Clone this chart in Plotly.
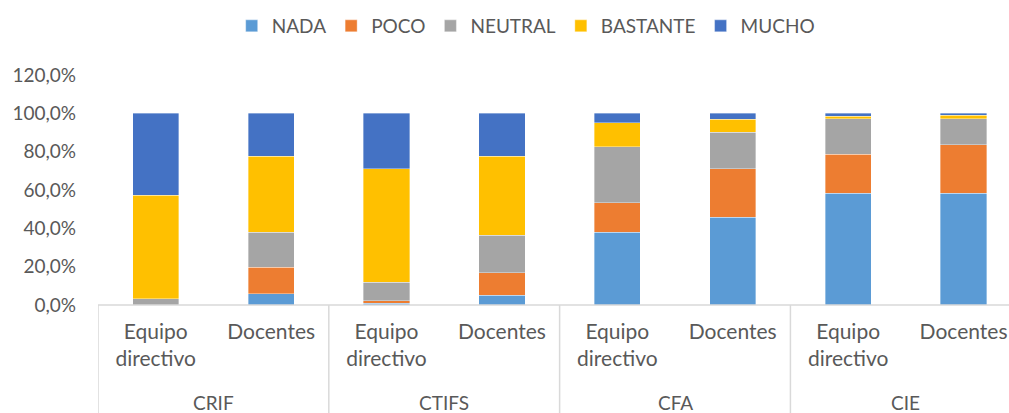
import plotly.graph_objects as go

# Grouped categories: centre type and respondent group
centres = ["CRIF", "CTIFS", "CFA", "CIE"]
groups = ["Equipo<br>directivo", "Docentes"]

# Share of answers per level (fraction of 1), one value per bar in order:
# CRIF-Equipo, CRIF-Docentes, CTIFS-Equipo, CTIFS-Docentes, CFA-Equipo, CFA-Docentes, CIE-Equipo, CIE-Docentes
nada = [0.000, 0.060, 0.010, 0.051, 0.380, 0.459, 0.584, 0.584]
poco = [0.000, 0.137, 0.013, 0.117, 0.154, 0.252, 0.202, 0.252]
neutral = [0.033, 0.183, 0.096, 0.195, 0.292, 0.191, 0.186, 0.136]
bastante = [0.540, 0.397, 0.592, 0.414, 0.125, 0.067, 0.014, 0.017]
mucho = [0.427, 0.223, 0.289, 0.223, 0.049, 0.031, 0.014, 0.011]

series = [
    ("NADA", nada, "#5B9BD5"),
    ("POCO", poco, "#ED7D31"),
    ("NEUTRAL", neutral, "#A5A5A5"),
    ("BASTANTE", bastante, "#FFC000"),
    ("MUCHO", mucho, "#4472C4"),
]

y_ticks = [0, 0.2, 0.4, 0.6, 0.8, 1.0, 1.2]

FONT = "Lato"
TXT = "#595959"
GRID = "#D9D9D9"

positions = list(range(len(centres) * len(groups)))
tick_text = [g for _ in centres for g in groups]

fig = go.Figure()
for name, vals, color in series:
    fig.add_trace(go.Bar(
        x=positions, y=vals, name=name,
        marker=dict(color=color, line=dict(color="rgba(255,255,255,0.45)", width=0.8)),
        width=0.4,
    ))

# Category axis: baseline, group separators and centre labels in the bottom margin
shapes = [dict(type="line", xref="x", yref="paper", x0=-0.5, x1=7.6, y0=0, y1=0,
               line=dict(color=GRID, width=1.5))]
annotations = []
for i, c in enumerate(centres):
    left = i * 2 - 0.5
    shapes.append(dict(type="line", xref="x", yref="paper", x0=left, x1=left,
                       y0=0, y1=-1.0, line=dict(color=GRID, width=1.5)))
    annotations.append(dict(x=i * 2 + 0.5, xref="x", y=-(403 - 305.5) / 230.5, yref="paper",
                            yanchor="middle", text=c, showarrow=False,
                            font=dict(family=FONT, size=19, color=TXT)))

fig.update_layout(
    width=1009, height=413,
    margin=dict(l=98, r=0, t=75, b=107.5),
    paper_bgcolor="white", plot_bgcolor="white",
    barmode="stack", separators=",.",
    font=dict(family=FONT, color=TXT),
    xaxis=dict(range=[-0.5, 7.394], tickmode="array", tickvals=positions, ticktext=tick_text,
               showgrid=False, zeroline=False, showline=False, ticks="",
               ticklabelstandoff=12,
               tickfont=dict(family=FONT, size=21, color=TXT)),
    yaxis=dict(range=[0, 1.2], tickvals=y_ticks, tickformat=".1%", showgrid=False,
               zeroline=False, showline=False, ticks="", ticklabelstandoff=21,
               tickfont=dict(family=FONT, size=19, color=TXT)),
    legend=dict(orientation="h", xref="container", yref="container",
                x=0.521, xanchor="center", y=1 - 26 / 413, yanchor="middle",
                font=dict(family=FONT, size=19, color=TXT), itemwidth=30,
                traceorder="normal"),
    shapes=shapes, annotations=annotations,
)

fig.write_html("out.html")
